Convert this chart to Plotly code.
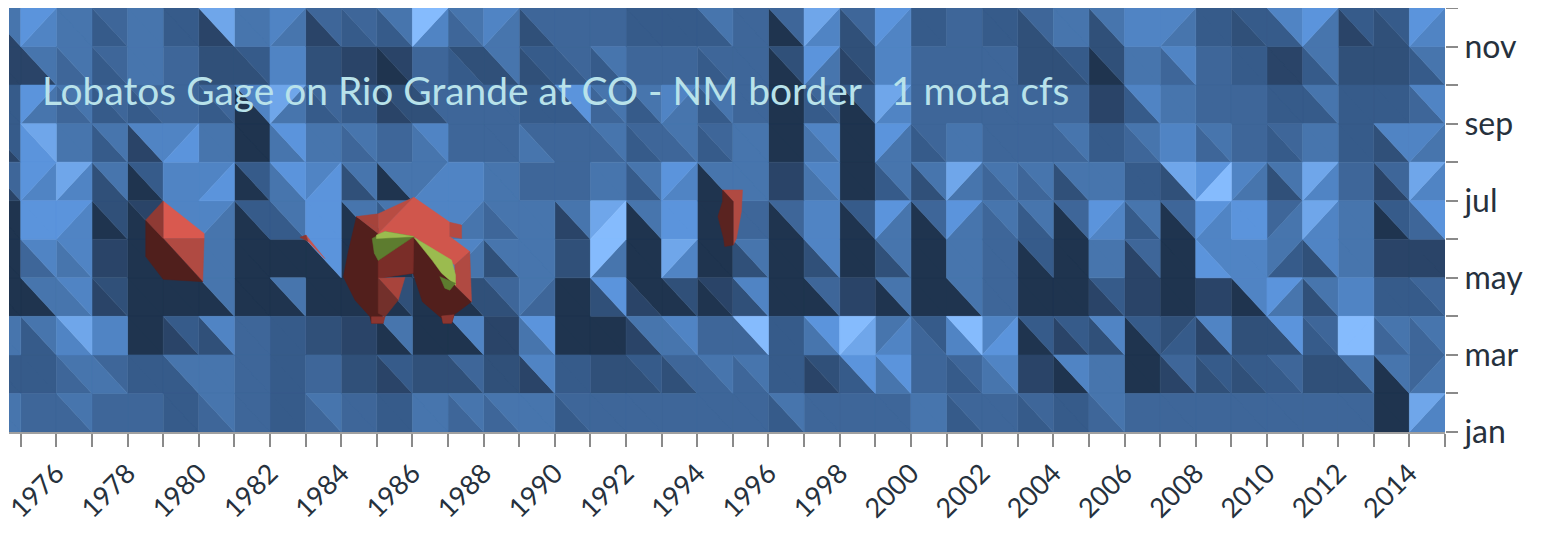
import plotly.graph_objects as go

# Tick labels
months = ["jan","feb","mar","apr","may","jun","jul","aug","sep","oct","nov","dec"]
years = list(range(1974, 2016))
# Shade readings per grid cell, sliver column first then 1975..2014.
# "ab" = cell cut by "\" (a upper right, b lower left); "/ab" = cut by "/" (a upper left, b lower right)
jan_feb = "55 44 54 44 44 33 54 44 33 54 44 33 55 54 54 55 43 44 44 44 44 44 53 44 44 44 55 43 44 43 33 54 44 44 44 44 44 44 44 00 /86".split()
feb_mar = "33 33 54 45 33 53 55 44 33 44 22 31 22 42 22 61 33 22 32 42 54 54 33 21 73 75 44 43 65 11 60 55 00 41 32 32 43 22 52 50 /45".split()
mar_apr = "55 53 86 66 00 31 62 44 33 22 11 50 00 60 11 75 00 00 51 65 44 94 33 75 /98 /56 34 96 /67 30 31 62 30 /23 61 22 72 43 /99 54 54".split()
apr_may = "00 50 65 21 00 00 50 00 50 00 00 20 00 20 42 /54 00 72 01 20 10 62 00 40 11 50 00 50 44 00 00 31 11 00 11 60 /75 52 66 33 43".split()
may_jun = "00 64 65 11 00 50 55 00 00 70 00 00 11 /65 52 55 22 /95 00 /86 00 52 00 62 00 52 00 55 44 30 00 55 41 00 67 66 /53 62 55 11 11".split()
jun_jul = "00 77 /76 20 10 /66 /65 30 53 77 50 53 66 /65 54 55 51 /89 50 77 00 44 40 /66 30 /75 40 /75 54 53 40 /76 53 40 /76 77 /45 /86 55 30 74".split()
jul_aug = "41 /76 /86 52 30 66 /67 30 75 /67 52 50 /56 66 55 44 44 55 53 /76 50 55 11 65 00 53 52 /85 54 54 52 55 33 82 /79 /65 52 /86 44 41 /86".split()
aug_sep = "31 87 55 53 61 /67 55 00 75 55 54 44 65 44 44 45 44 54 43 54 43 55 00 65 00 /75 43 55 44 44 54 33 54 66 54 44 43 55 33 62 /65".split()
sep_oct = "33 /75 54 43 43 44 43 60 /85 43 33 21 42 44 44 33 73 54 53 /65 53 44 00 43 30 /86 44 44 44 44 44 11 63 55 44 44 33 53 33 33 64".split()
oct_nov = "11 51 54 43 55 44 22 32 66 22 11 10 44 23 52 32 43 53 44 44 43 44 20 /75 21 /66 44 44 44 22 32 20 55 64 44 33 11 53 22 22 53".split()
nov_dec = "51 /76 55 43 55 33 81 55 /65 41 43 53 /96 54 /65 42 44 44 33 33 53 44 40 /86 42 /76 33 44 33 42 55 52 66 /65 33 32 63 /75 31 32 /76".split()
rows = [jan_feb, feb_mar, mar_apr, apr_may, may_jun, jun_jul, jul_aug, aug_sep, sep_oct, oct_nov, nov_dec]

palette = ["#1f344f","#2a4468","#305079","#365b8a","#3e6699","#4775ad","#5084c4","#5b94dc","#6fa6ea","#85bbfd"]

# Regions of the surface above the upper series bands: (colour, years, month positions)
high_bands = [
 ("#d9594f",[1979,1980.15,1980.15,1979],[5.99,5.15,5.02,5.02]),
 ("#b04a42",[1979,1980.15,1980.11],[5.02,5.02,3.90]),
 ("#501f1c",[1978.51,1979,1980.11,1979,1978.51],[5.5,5.02,3.90,3.96,4.55]),
 ("#8f3a34",[1978.51,1979,1979],[5.5,5.99,5.02]),
 ("#c9524a",[1983.01,1983.54,1983.07],[5.11,4.50,4.94]),
 ("#8c3630",[1982.84,1983.01,1983.07],[5.05,5.11,4.94]),
 ("#b04a42",[1994.71,1995.27,1995.24,1995.10,1995.01,1995.01],[6.28,6.28,5.72,5.02,4.85,5.98]),
 ("#5a2320",[1994.71,1995.01,1995.01,1994.77,1994.74,1994.58,1994.71],[6.28,5.98,4.85,4.81,5.02,5.59,5.98]),
 # big blob: dark base first
 ("#521f1c",[1984.43,1985.04,1986.04,1987.19,1987.66,1987.17,1987.10,1986.86,1986.82,1986.28,1986.02,1985.04,1985.18,1985.04,1984.85,1984.81,1984.39,1984.06,1984.20],
            [5.59,5.15,5.07,3.81,3.38,3.04,2.82,2.82,2.95,3.38,4.12,3.99,2.82,2.82,2.82,2.99,3.42,4.03,4.68]),
 ("#a5433b",[1984.43,1985.04,1985.04],[5.59,5.66,5.28]),
 ("#b84c43",[1985.04,1986.04,1985.04],[5.66,6.09,5.15]),
 ("#a5433b",[1984.43,1985.04,1985.04],[5.59,5.28,5.15]),
 ("#d0564c",[1986.04,1987.05,1987.05,1987.61,1987.19,1986.04,1985.04],[6.09,5.44,5.07,4.68,4.33,5.07,5.15]),
 ("#b54a42",[1987.05,1987.38,1987.38,1987.05],[5.44,5.37,5.02,5.07]),
 ("#b04a42",[1987.19,1987.61,1987.66,1987.19],[4.33,4.68,3.38,3.81]),
 ("#7a2d28",[1985.04,1986.04,1986.02,1985.04],[4.45,5.07,4.12,3.99]),
 ("#a8443c",[1985.04,1985.79,1985.60],[3.99,4.01,3.42]),
 ("#73302b",[1985.04,1985.60,1985.23,1985.04],[3.99,3.42,2.99,3.08]),
 ("#8c3630",[1984.85,1985.23,1985.18,1984.85],[2.99,2.99,2.82,2.82]),
 ("#8c3630",[1986.82,1987.17,1987.10,1986.86],[3.01,3.04,2.82,2.82]),
 ("#5d7c2f",[1984.87,1985.23,1986.04,1985.04,1984.93],[5.02,5.20,5.07,4.45,4.64]),
 ("#9bbb4f",[1984.99,1985.23,1986.04,1984.99],[5.11,5.20,5.07,5.02]),
 ("#9bbb4f",[1986.04,1986.3,1987.10,1987.21,1987.21,1986.82,1986.55],[5.05,4.9,4.46,4.07,3.81,4.12,4.46]),
 ("#5d7c2f",[1986.77,1987.21,1987.05,1986.91],[4.03,3.86,3.68,3.73]),
]

title_text = "Lobatos Gage on Rio Grande at CO - NM border   1 mota cfs"

buckets = {i: ([], []) for i in range(10)}
def add(shade, xs, ys):
    bx, by = buckets[shade]
    bx.extend(xs + [xs[0], None])
    by.extend(ys + [ys[0], None])

for r, row in enumerate(rows):
    for c, tok in enumerate(row):
        x0 = 1974 + c
        x1 = x0 + 1
        y0, y1 = r, r + 1
        if tok.startswith("/"):
            a, b = int(tok[1]), int(tok[2])
            add(a, [x0, x1, x0], [y1, y1, y0])
            add(b, [x1, x1, x0], [y1, y0, y0])
        else:
            a, b = int(tok[0]), int(tok[1])
            add(a, [x0, x1, x1], [y1, y1, y0])
            add(b, [x0, x1, x0], [y1, y0, y0])

fig = go.Figure()
for shade, (bx, by) in buckets.items():
    fig.add_trace(go.Scatter(x=bx, y=by, mode="lines", fill="toself",
                             fillcolor=palette[shade],
                             line=dict(color=palette[shade], width=0.6),
                             hoverinfo="skip", showlegend=False))
for colour, xs, ys in high_bands:
    fig.add_trace(go.Scatter(x=xs + [xs[0]], y=ys + [ys[0]], mode="lines", fill="toself",
                             fillcolor=colour, line=dict(color=colour, width=0.5),
                             hoverinfo="skip", showlegend=False))

x_font = dict(family="Lato, 'Open Sans', sans-serif", size=27, color="#26313d")
y_font = dict(family="Lato, 'Open Sans', sans-serif", size=32, color="#26313d")
fig.update_layout(
    width=1525, height=517,
    margin=dict(l=1, r=88, t=0, b=93, autoexpand=False),
    paper_bgcolor="white", plot_bgcolor="white",
    xaxis=dict(range=[1974.67, 2015], showgrid=False, zeroline=False,
               tickmode="array",
               tickvals=years[1:],
               ticktext=[str(y) if y % 2 == 0 and y > 1975 and y < 2015 else "" for y in years[1:]],
               tickangle=-45, ticks="outside", ticklen=13, tickwidth=1.5, tickcolor="#8a8a8a",
               showline=True, linecolor="#a0a0a0", linewidth=1.5, mirror=True,
               ticklabeloverflow="allow",
               tickfont=x_font),
    yaxis=dict(range=[0, 11], side="right", showgrid=False, zeroline=False,
               tickmode="array", tickvals=list(range(12)),
               ticktext=[m if i % 2 == 0 and i < 11 else "" for i, m in enumerate(months)],
               ticks="outside", ticklen=12, tickwidth=1.5, tickcolor="#8a8a8a",
               showline=False, ticklabeloverflow="allow", tickfont=y_font),
    annotations=[dict(text=title_text, xref="paper", yref="paper",
                      x=(40 - 9) / 1436, y=(432 - 90) / 424, xanchor="left", yanchor="middle",
                      showarrow=False,
                      font=dict(family="Lato, 'Open Sans', sans-serif", size=38.9, color="#b8e2ea"))],
)
fig.write_html("out.html")
